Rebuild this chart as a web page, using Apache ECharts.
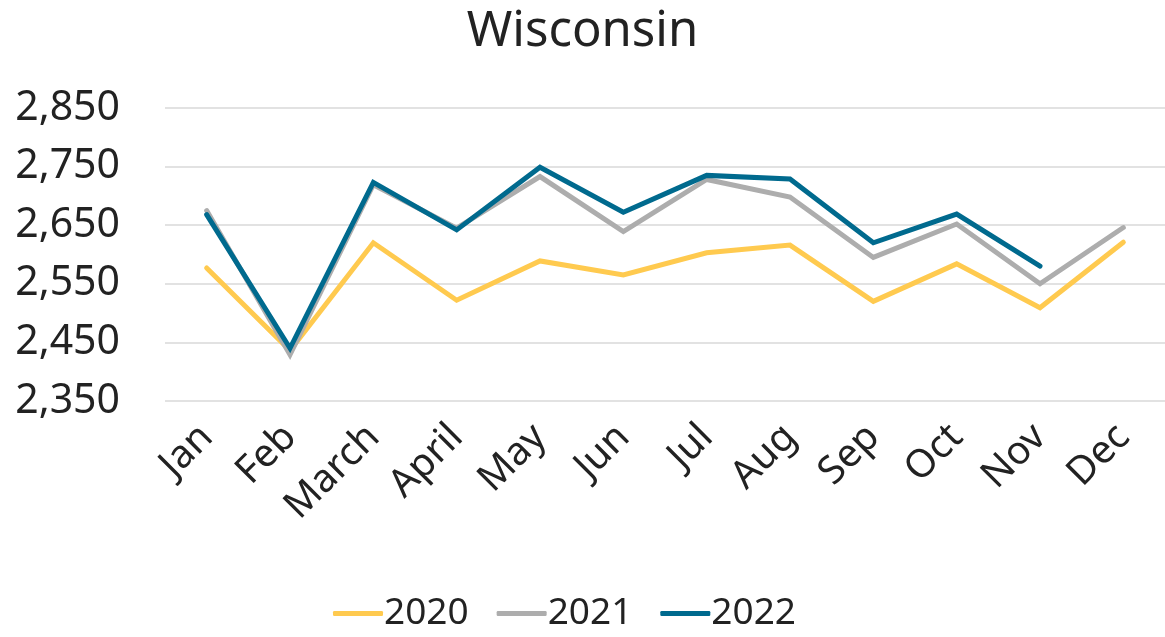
<!DOCTYPE html>
<html>
<head>
<meta charset="utf-8">
<script src="https://cdn.jsdelivr.net/npm/echarts@6/dist/echarts.min.js"></script>
<style>
  html, body { margin: 0; padding: 0; background: #fff; }
  #chart { width: 1165px; height: 637px; }
</style>
</head>
<body>
<div id="chart"></div>
<script>
const months = ['Jan', 'Feb', 'March', 'April', 'May', 'Jun', 'Jul', 'Aug', 'Sep', 'Oct', 'Nov', 'Dec'];
const years = ['2020', '2021', '2022'];
const v2020 = [2577, 2436, 2620, 2522, 2589, 2565, 2603, 2616, 2520, 2584, 2509, 2621];
const v2021 = [2675, 2429, 2719, 2645, 2733, 2639, 2728, 2698, 2595, 2652, 2550, 2646];
const v2022 = [2668, 2440, 2723, 2642, 2749, 2672, 2735, 2729, 2620, 2669, 2580, null];
const colors = ['#FFCA4F', '#ADADAD', '#006A8E'];

const chart = echarts.init(document.getElementById('chart'));
const font = 'Noto Sans';

const series = [v2020, v2021, v2022].map(function (vals, i) {
  return {
    name: years[i],
    type: 'line',
    data: vals,
    symbol: 'none',
    lineStyle: { width: 5, color: colors[i], cap: 'round', join: 'miter' },
    itemStyle: { color: colors[i] }
  };
});

chart.setOption({
  animation: false,
  title: {
    text: 'Wisconsin',
    left: 'center',
    top: 3,
    textStyle: { fontFamily: font, fontSize: 49, fontWeight: 'normal', color: '#222' }
  },
  legend: {
    bottom: 0,
    left: 328,
    data: years,
    icon: 'roundRect',
    itemWidth: 50,
    itemHeight: 5,
    itemGap: 28,
    textStyle: { fontFamily: font, fontSize: 37, color: '#222', padding: [0, 0, 0, -4] }
  },
  grid: { left: 165, right: -5, top: 108, height: 293 },
  xAxis: {
    type: 'category',
    data: months,
    boundaryGap: true,
    axisLine: { show: false },
    axisTick: { show: false },
    axisLabel: {
      rotate: 45,
      margin: 30,
      interval: 0,
      fontFamily: font,
      fontSize: 39,
      color: '#222'
    }
  },
  yAxis: {
    type: 'value',
    min: 2350,
    max: 2850,
    interval: 100,
    axisLine: { show: false },
    axisTick: { show: false },
    axisLabel: {
      margin: 45,
      fontFamily: font,
      fontSize: 41,
      color: '#222',
      formatter: function (v) { return v.toLocaleString('en-US'); }
    },
    splitLine: { lineStyle: { color: '#D9D9D9', width: 1.5 } }
  },
  series: series
});
</script>
</body>
</html>
